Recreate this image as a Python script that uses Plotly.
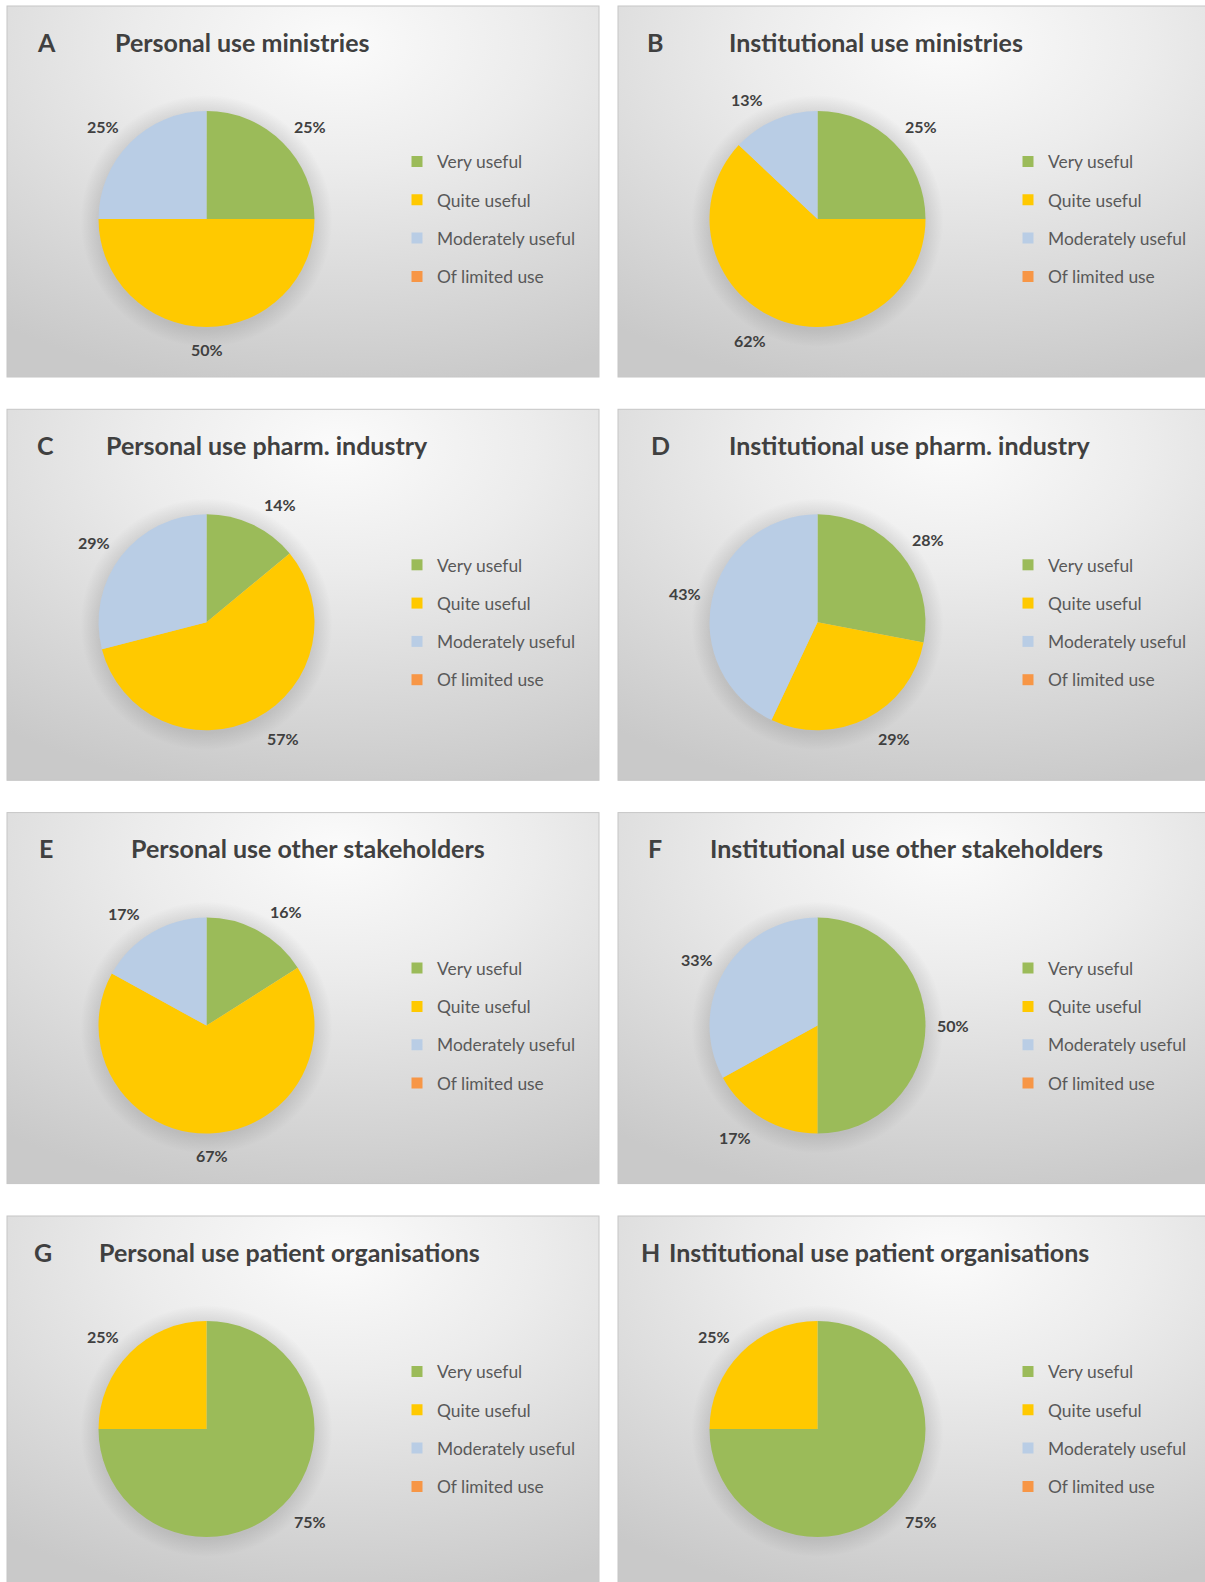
import base64
import math
import plotly.graph_objects as go

# ---------------- data ----------------
categories = ["Very useful", "Quite useful", "Moderately useful", "Of limited use"]
slice_colors = ["#9BBB59", "#FFC900", "#B9CDE5", "#F79646"]

panel_letters = ["A", "B", "C", "D", "E", "F", "G", "H"]
panel_titles = [
    "Personal use ministries",
    "Institutional use ministries",
    "Personal use pharm. industry",
    "Institutional use pharm. industry",
    "Personal use other stakeholders",
    "Institutional use other stakeholders",
    "Personal use patient organisations",
    "Institutional use patient organisations",
]

ministries_personal = [25, 50, 25, 0]
ministries_institutional = [25, 62, 13, 0]
pharma_personal = [14, 57, 29, 0]
pharma_institutional = [28, 29, 43, 0]
other_personal = [16, 67, 17, 0]
other_institutional = [50, 17, 33, 0]
patient_personal = [75, 25, 0, 0]
patient_institutional = [75, 25, 0, 0]

panel_values = [
    ministries_personal, ministries_institutional,
    pharma_personal, pharma_institutional,
    other_personal, other_institutional,
    patient_personal, patient_institutional,
]

# ---------------- layout geometry (pixels) ----------------
W, H = 1205, 1582
col_x0 = [7, 618]
row_y0 = [6, 409.3, 812.6, 1216]
panel_w, panel_h = 592, 371
pie_cx, pie_cy, pie_r = 199.5, 213, 108
letter_dx = [28, 27, 28, 31, 30, 28, 25, 21]
title_dx = [106, 109, 97, 109, 122, 89.5, 90, 49]
title_dy = 35.5
legend_dx = 390
legend_first_dy = 155.5
legend_font = 17.4
legend_entry_h = legend_font * 1.3 + 3
legend_gap = 38.3 - legend_entry_h
label_out_x = 27.5     # horizontal offset of data labels beyond the rim
label_out_r = 22.2     # radial (vertical) offset of data labels beyond the rim

FONT = "Lato"

# ---------------- background (gradient panels) ----------------
svg = [f'<svg xmlns="http://www.w3.org/2000/svg" width="{W}" height="{H}" viewBox="0 0 {W} {H}">',
       '<defs>',
       '<radialGradient id="bg" cx="0.56" cy="0.1" r="0.95">'
       '<stop offset="0" stop-color="#fbfbfb"/>'
       '<stop offset="0.35" stop-color="#ececec"/>'
       '<stop offset="0.7" stop-color="#d9d9d9"/>'
       '<stop offset="1" stop-color="#c9c9c9"/>'
       '</radialGradient>',
       '<radialGradient id="sh" cx="0.5" cy="0.5" r="0.5">'
       '<stop offset="0" stop-color="#000" stop-opacity="0.12"/>'
       '<stop offset="0.86" stop-color="#000" stop-opacity="0.10"/>'
       '<stop offset="1" stop-color="#000" stop-opacity="0"/>'
       '</radialGradient>',
       '</defs>',
       f'<rect x="0" y="0" width="{W}" height="{H}" fill="#ffffff"/>']
for i in range(8):
    x0 = col_x0[i % 2]
    y0 = row_y0[i // 2]
    svg.append(f'<rect x="{x0}" y="{y0}" width="{panel_w}" height="{panel_h}" fill="url(#bg)" '
               f'stroke="#c6c6c6" stroke-width="1"/>')
    sr = pie_r + 18
    svg.append(f'<circle cx="{x0 + pie_cx}" cy="{y0 + pie_cy + 2}" r="{sr}" fill="url(#sh)"/>')
svg.append('</svg>')
bg_uri = "data:image/svg+xml;base64," + base64.b64encode("".join(svg).encode()).decode()

# ---------------- figure ----------------
fig = go.Figure()
annotations = []
legends = {}

for i in range(8):
    x0 = col_x0[i % 2]
    y0 = row_y0[i // 2]
    vals = panel_values[i]
    cx = x0 + pie_cx
    cy = y0 + pie_cy
    dom_x = [(cx - pie_r) / W, (cx + pie_r) / W]
    dom_y = [1 - (cy + pie_r) / H, 1 - (cy - pie_r) / H]
    fig.add_trace(go.Pie(
        labels=categories,
        values=vals,
        textinfo="none",
        marker=dict(colors=slice_colors, line=dict(width=0)),
        sort=False,
        direction="clockwise",
        rotation=0,
        domain=dict(x=dom_x, y=dom_y),
        showlegend=False,
        hoverinfo="label+percent",
    ))

    # data labels placed outside the slices (Excel "outside end" style), derived from values
    total = float(sum(vals))
    cum = 0.0
    for v in vals:
        if v <= 0:
            continue
        mid = 2 * math.pi * (cum + v / 2) / total
        cum += v
        s, c = math.sin(mid), math.cos(mid)
        lx = cx + pie_r * s + label_out_x * max(-1.0, min(1.0, s / 0.35))
        ly = cy - (pie_r + label_out_r) * c
        annotations.append(dict(
            text=f"{v}%", x=lx / W, y=1 - ly / H, xref="paper", yref="paper",
            xanchor="center", yanchor="middle", showarrow=False,
            font=dict(family=FONT, size=16, color="#404040", weight="bold"),
        ))

    lname = "legend" if i == 0 else f"legend{i + 1}"
    for j, cat in enumerate(categories):
        fig.add_trace(go.Scatter(
            x=[None], y=[None], mode="markers",
            marker=dict(symbol="square", size=11, color=slice_colors[j]),
            name=cat, legend=lname, legendgroup=f"p{i}_{j}", showlegend=True,
            hoverinfo="skip",
        ))
    legends[lname] = dict(
        x=(x0 + legend_dx) / W,
        y=1 - (y0 + legend_first_dy - (5 + legend_entry_h / 2)) / H,
        xanchor="left", yanchor="top",
        bgcolor="rgba(0,0,0,0)", borderwidth=0,
        font=dict(family=FONT, size=legend_font, color="#595959"),
        tracegroupgap=legend_gap, traceorder="grouped",
    )
    annotations.append(dict(
        text=panel_letters[i], x=(x0 + letter_dx[i]) / W, y=1 - (y0 + title_dy) / H,
        xref="paper", yref="paper", xanchor="left", yanchor="middle", showarrow=False,
        font=dict(family=FONT, size=25, color="#404040", weight="bold"),
    ))
    annotations.append(dict(
        text=panel_titles[i], x=(x0 + title_dx[i]) / W, y=1 - (y0 + title_dy) / H,
        xref="paper", yref="paper", xanchor="left", yanchor="middle", showarrow=False,
        font=dict(family=FONT, size=25, color="#404040", weight="bold"),
    ))

fig.update_layout(
    width=W, height=H,
    margin=dict(l=0, r=0, t=0, b=0),
    paper_bgcolor="#ffffff",
    plot_bgcolor="rgba(0,0,0,0)",
    xaxis=dict(visible=False),
    yaxis=dict(visible=False),
    annotations=annotations,
    images=[dict(source=bg_uri, xref="paper", yref="paper", x=0, y=1, sizex=1, sizey=1,
                 xanchor="left", yanchor="top", sizing="stretch", layer="below")],
    **legends,
)

fig.write_html("out.html")
